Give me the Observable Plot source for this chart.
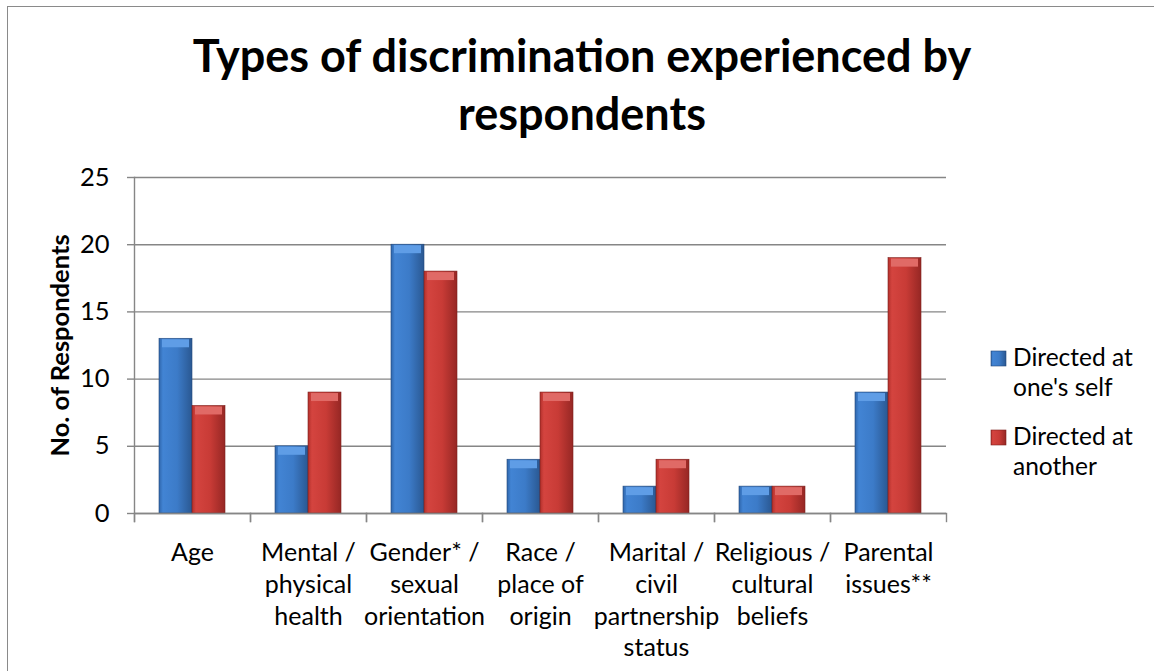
<!DOCTYPE html>
<html><head><meta charset="utf-8">
<script src="https://cdn.jsdelivr.net/npm/d3@7"></script>
<script src="https://cdn.jsdelivr.net/npm/@observablehq/plot@0.6"></script>
<style>
html,body{margin:0;padding:0;background:#fff;overflow:hidden}
#wrap{position:relative;width:1154px;height:671px;overflow:hidden;font-family:Lato,sans-serif}
#border{position:absolute;left:7px;top:6px;width:1300px;height:800px;border:1.5px solid #8a8a8a}
#chart{position:absolute;left:0;top:0}
#overlay{position:absolute;left:0;top:0}
g[aria-label="y-axis label"] text{font-weight:bold}
</style></head><body>
<div id="wrap"><div id="border"></div><div id="chart"></div><svg id="overlay" width="1154" height="671"></svg></div>
<script>
// ---- data ----
const categories = ["Age", "Mental / physical health", "Gender* / sexual orientation", "Race / place of origin", "Marital / civil partnership status", "Religious / cultural beliefs", "Parental issues**"];
const tickLabels = ["Age", "Mental /\nphysical\nhealth", "Gender* /\nsexual\norientation", "Race /\nplace of\norigin", "Marital /\ncivil\npartnership\nstatus", "Religious /\ncultural\nbeliefs", "Parental\nissues**"];
const series = ["Directed at one's self", "Directed at another"];
const legendLabels = ["Directed at\none's self", "Directed at\nanother"];
const selfValues = [13, 5, 20, 4, 2, 2, 9];
const anotherValues = [8, 9, 18, 9, 4, 2, 19];
const yTicks = [0, 5, 10, 15, 20, 25];
const titleLines = ["Types of discrimination experienced by", "respondents"];
const yLabel = "No. of Respondents";

// ---- build table ----
const rows = categories.flatMap((c, i) => [
  {category: c, series: series[0], value: selfValues[i]},
  {category: c, series: series[1], value: anotherValues[i]}
]);
const selfRows = rows.filter(d => d.series === series[0]);
const otherRows = rows.filter(d => d.series === series[1]);

const axisColor = "#868686";
const gradDefs = `
<linearGradient id="gBlue" x1="0" x2="1" y1="0" y2="0">
 <stop offset="0" stop-color="#2f66ab"/><stop offset="0.12" stop-color="#4284d4"/>
 <stop offset="0.55" stop-color="#3c7bc8"/><stop offset="1" stop-color="#2a5892"/>
</linearGradient>
<linearGradient id="gRed" x1="0" x2="1" y1="0" y2="0">
 <stop offset="0" stop-color="#b2302b"/><stop offset="0.12" stop-color="#d4443f"/>
 <stop offset="0.55" stop-color="#c83b36"/><stop offset="1" stop-color="#962724"/>
</linearGradient>`;

function defsMark() {
  const g = document.createElementNS("http://www.w3.org/2000/svg", "defs");
  g.innerHTML = gradDefs;
  return g;
}

const plot = Plot.plot({
  width: 1154, height: 671,
  marginLeft: 132, marginRight: 206, marginTop: 177, marginBottom: 158,
  style: {fontFamily: "Lato, sans-serif", fontSize: "25px", color: "#000", background: "transparent", overflow: "visible"},
  fx: {domain: categories, padding: 0, label: null, axis: null},
  x: {domain: series, paddingInner: 0, paddingOuter: 0.72, axis: null},
  y: {domain: [0, 25], label: null, axis: null},
  marks: [
    defsMark,
    Plot.gridY(yTicks, {stroke: axisColor, strokeOpacity: 1, strokeWidth: 1.4}),
    Plot.axisY(yTicks, {tickSize: 7, tickPadding: 18, stroke: axisColor, strokeWidth: 1.4, fontSize: 25.5,
      label: yLabel, labelAnchor: "center", labelArrow: "none", labelOffset: 84}),
    Plot.barY(selfRows, {fx: "category", x: "series", y: "value", fill: "url(#gBlue)", stroke: "#23487a", strokeWidth: 0.6}),
    Plot.barY(otherRows, {fx: "category", x: "series", y: "value", fill: "url(#gRed)", stroke: "#7c1f1c", strokeWidth: 0.6}),
    Plot.tickY(selfRows, {fx: "category", x: "series", y: "value", stroke: "#5f9de6", strokeWidth: 8, dy: 4.5, insetLeft: 3, insetRight: 3}),
    Plot.tickY(otherRows, {fx: "category", x: "series", y: "value", stroke: "#e06a66", strokeWidth: 8, dy: 4.5, insetLeft: 3, insetRight: 3}),
    Plot.ruleY([0], {stroke: axisColor, strokeWidth: 1.4}),
    Plot.frame({anchor: "left", stroke: axisColor, strokeWidth: 1.4, insetTop: 336, insetBottom: -8}),
    Plot.frame({anchor: "right", stroke: axisColor, strokeWidth: 1.4, insetTop: 336, insetBottom: -8}),
    Plot.frame({anchor: "left", fx: [categories[0]], stroke: axisColor, strokeWidth: 1.4, insetBottom: -8}),
    Plot.axisFx({anchor: "bottom", tickSize: 0, tickPadding: 25, lineHeight: 1.27, fontSize: 25, label: null,
      tickFormat: c => tickLabels[categories.indexOf(c)]})
  ]
});
document.getElementById("chart").appendChild(plot);

// ---- title and legend ----
const ov = d3.select("#overlay");
ov.append("defs").html(gradDefs.replace(/id="g/g, 'id="L'));
ov.selectAll("text.title").data(titleLines).join("text")
  .attr("class", "title")
  .attr("x", 582).attr("y", (d, i) => 72 + i * 58)
  .attr("text-anchor", "middle")
  .style("font-family", "Lato, sans-serif").style("font-weight", "bold").style("font-size", "45px")
  .text(d => d);

const lg = ov.selectAll("g.leg").data(series).join("g").attr("class", "leg")
  .attr("transform", (d, i) => `translate(991, ${351 + i * 79})`);
lg.append("rect").attr("width", 15).attr("height", 15)
  .attr("fill", (d, i) => i === 0 ? "url(#LBlue)" : "url(#LRed)")
  .attr("stroke", (d, i) => i === 0 ? "#23487a" : "#7c1f1c").attr("stroke-width", 0.6);
lg.each(function(d, i) {
  const t = d3.select(this).append("text").attr("x", 22).attr("y", 15)
    .style("font-family", "Lato, sans-serif").style("font-size", "24.5px");
  legendLabels[i].split("\n").forEach((line, j) => {
    t.append("tspan").attr("x", 22).attr("dy", j === 0 ? 0 : 30).text(line);
  });
});
</script>
</body></html>
